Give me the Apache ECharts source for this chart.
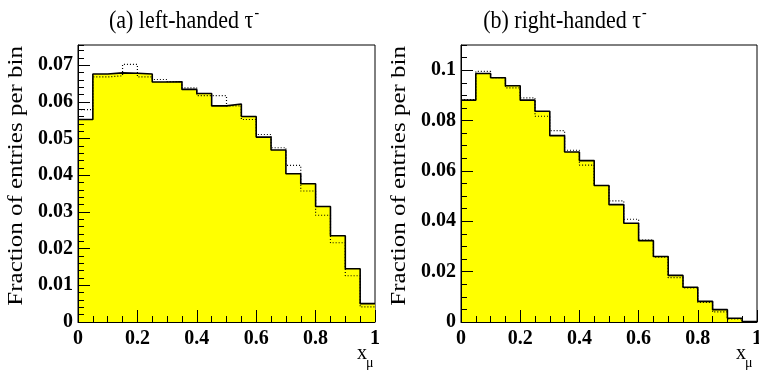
<!DOCTYPE html>
<html>
<head>
<meta charset="utf-8">
<script src="https://cdn.jsdelivr.net/npm/echarts@6/dist/echarts.min.js"></script>
<style>
html,body{margin:0;padding:0;background:#fff;}
#main{width:759px;height:379px;}
</style>
</head>
<body>
<div id="main"></div>
<script>
// 20 bins from 0 to 1
var binLo = 0, binHi = 1, nBins = 20;

// (a) left-handed tau-
var leftSolid = [0.0552, 0.0676, 0.0679, 0.0678, 0.0676, 0.0654, 0.0655, 0.0634, 0.0623, 0.0589,
                 0.0594, 0.0560, 0.0504, 0.0469, 0.0404, 0.0377, 0.0315, 0.0235, 0.0145, 0.0050];
var leftDotted = [0.0579, 0.0668, 0.0671, 0.0702, 0.0668, 0.0661, 0.0655, 0.0638, 0.0617, 0.0617,
                  0.0589, 0.0552, 0.0511, 0.0475, 0.0427, 0.0357, 0.0291, 0.0216, 0.0126, 0.0041];
// (b) right-handed tau-
var rightSolid = [0.0881, 0.0987, 0.0970, 0.0938, 0.0881, 0.0837, 0.0740, 0.0675, 0.0641, 0.0542,
                  0.0466, 0.0392, 0.0323, 0.0260, 0.0185, 0.0138, 0.0082, 0.0049, 0.0015, 0.0002];
var rightDotted = [0.0883, 0.0995, 0.0970, 0.0930, 0.0890, 0.0817, 0.0760, 0.0682, 0.0623, 0.0542,
                   0.0481, 0.0408, 0.0325, 0.0258, 0.0176, 0.0135, 0.0078, 0.0040, 0.0012, 0.0002];

var titles = ['(a) left-handed \u03c4', '(b) right-handed \u03c4'];
var yName = 'Fraction of entries per bin';

var serif = '"Liberation Serif", "DejaVu Serif", serif';

// histogram bins -> step points (left edges + closing right edge)
function steps(vals){
    var w = (binHi - binLo) / nBins;
    var pts = [];
    for (var i = 0; i < vals.length; i++) {
        pts.push([binLo + i * w, vals[i]]);
    }
    pts.push([binHi, vals[vals.length - 1]]);
    return pts;
}

function xAxes(grid){
    return [
        { // minor ticks
            type: 'value', gridIndex: grid, position: 'bottom', offset: 0, min: 0, max: 1, interval: 0.05, z: 5,
            axisLine: {show: true, onZero: false, lineStyle: {color: '#000', width: 1}},
            axisTick: {show: true, inside: true, length: 6, lineStyle: {color: '#000'}},
            axisLabel: {show: false}, splitLine: {show: false}
        },
        { // major ticks + labels
            type: 'value', gridIndex: grid, position: 'bottom', offset: 0, min: 0, max: 1, interval: 0.2, z: 5,
            axisLine: {show: false, onZero: false},
            axisTick: {show: true, inside: true, length: 12, lineStyle: {color: '#000'}},
            axisLabel: {show: true, color: '#000', fontFamily: serif, fontWeight: 'bold', fontSize: 20, margin: 7,
                formatter: function(v){ return +v.toFixed(1) + ''; }},
            splitLine: {show: false}
        }
    ];
}

function yAxes(grid, max, minorStep, majorStep){
    return [
        {
            type: 'value', gridIndex: grid, position: 'left', offset: 0, min: 0, max: max, interval: minorStep, z: 5,
            axisLine: {show: true, onZero: false, lineStyle: {color: '#000', width: 1}},
            axisTick: {show: true, inside: true, length: 6, lineStyle: {color: '#000'}},
            axisLabel: {show: false}, splitLine: {show: false}
        },
        {
            type: 'value', gridIndex: grid, position: 'left', offset: 0, min: 0, max: max, interval: majorStep, z: 5,
            axisLine: {show: false, onZero: false},
            axisTick: {show: true, inside: true, length: 12, lineStyle: {color: '#000'}},
            axisLabel: {show: true, color: '#000', fontFamily: serif, fontWeight: 'bold', fontSize: 20, margin: 5,
                showMaxLabel: false,
                formatter: function(v){ return +v.toFixed(3) + ''; }},
            splitLine: {show: false}
        }
    ];
}

function histSeries(x, y, solid, dotted){
    return [
        {
            type: 'line', xAxisIndex: x, yAxisIndex: y, step: 'end', symbol: 'none', z: 2,
            data: steps(solid),
            lineStyle: {color: '#000', width: 1.6},
            areaStyle: {color: '#ffff00', opacity: 1}
        },
        {
            type: 'line', xAxisIndex: x, yAxisIndex: y, step: 'end', symbol: 'none', z: 3,
            data: steps(dotted),
            lineStyle: {color: '#000', width: 1.2, type: [1, 2]}
        }
    ];
}

function titleText(t, cx){
    return {
        type: 'text', x: cx, y: 21, scaleY: 1.15,
        style: {
            text: '{m|' + t + '}{s|-}', align: 'center', verticalAlign: 'middle',
            rich: {
                m: {fontFamily: serif, fontSize: 22, fill: '#000'},
                s: {fontFamily: serif, fontSize: 14, fill: '#000', padding: [0, 0, 12, 1]}
            }
        }
    };
}

var myChart = echarts.init(document.getElementById('main'));

var option = {
    animation: false,
    backgroundColor: '#fff',
    grid: [
        {left: 78, top: 45, width: 297, height: 277, show: true, borderColor: '#000', borderWidth: 1,
            containLabel: false, outerBoundsMode: 'none'},
        {left: 461, top: 45, width: 296, height: 277, show: true, borderColor: '#000', borderWidth: 1,
            containLabel: false, outerBoundsMode: 'none'}
    ],
    xAxis: xAxes(0).concat(xAxes(1)),
    yAxis: yAxes(0, 0.0755, 0.002, 0.01).concat(yAxes(1, 0.11, 0.005, 0.02)),
    series: histSeries(1, 1, leftSolid, leftDotted).concat(histSeries(3, 3, rightSolid, rightDotted)),
    graphic: [
        titleText(titles[0], 184),
        titleText(titles[1], 565),
        {type: 'text', x: 17, y: 46, rotation: Math.PI / 2, scaleX: 1.25,
            style: {text: yName, font: '20px ' + serif, fill: '#000', align: 'right', verticalAlign: 'middle'}},
        {type: 'text', x: 400, y: 46, rotation: Math.PI / 2, scaleX: 1.25,
            style: {text: yName, font: '20px ' + serif, fill: '#000', align: 'right', verticalAlign: 'middle'}},
        {type: 'text', x: 357, y: 344, style: {text: 'x', font: '20px ' + serif, fill: '#000'}},
        {type: 'text', x: 366, y: 356, style: {text: '\u03bc', font: '14px ' + serif, fill: '#000'}},
        {type: 'text', x: 736, y: 344, style: {text: 'x', font: '20px ' + serif, fill: '#000'}},
        {type: 'text', x: 745, y: 356, style: {text: '\u03bc', font: '14px ' + serif, fill: '#000'}}
    ]
};

myChart.setOption(option);
</script>
</body>
</html>
